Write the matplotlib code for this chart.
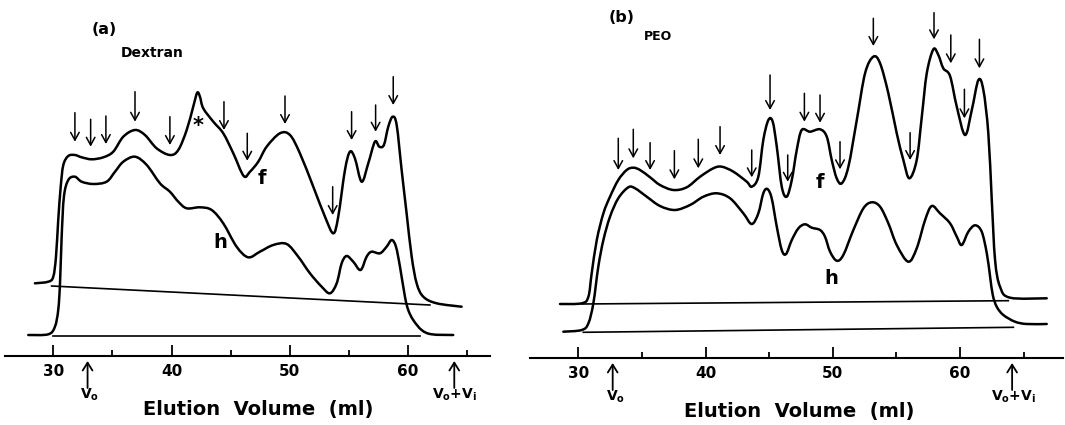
import numpy as np
import matplotlib
matplotlib.use("Agg")
import matplotlib.pyplot as plt
from matplotlib.path import Path
from matplotlib.patches import PathPatch

plt.rcParams["font.family"] = ["DejaVu Sans"]
plt.rcParams["mathtext.default"] = "regular"

# ---- (a) Dextran ----
dex_f_ml = [28.45, 29.58, 30.0, 30.23, 30.42, 30.63, 30.85, 31.27, 31.83, 32.40, 33.25, 34.23,
            35.07, 35.92, 36.91, 37.75, 38.74, 39.86, 40.57, 41.28, 41.83, 42.17, 42.40, 42.68,
            43.53, 44.37, 45.22, 46.1, 46.63, 47.33, 48.04, 49.16, 50.01, 50.85, 51.98, 52.97,
            53.67, 54.09, 54.66, 55.08, 55.5, 56.07, 56.63, 57.19, 57.56, 57.95, 58.32, 58.69,
            59.03, 59.45, 59.87, 60.3, 60.72, 61.28, 62.41, 64.52]
dex_f_abs = [7.27, 7.43, 7.93, 9.93, 13.6, 16.93, 19.1, 20.0, 20.1, 19.87, 19.67, 19.87,
             20.43, 21.93, 22.6, 22.1, 20.77, 20.1, 20.6, 22.6, 24.93, 26.33, 25.93, 24.77,
             23.43, 22.27, 20.27, 18.0, 18.43, 19.43, 20.93, 22.27, 22.1, 20.27, 16.93, 13.93,
             12.27, 13.93, 18.6, 20.43, 19.77, 17.43, 19.27, 21.43, 20.93, 21.1, 22.93, 23.93,
             23.1, 18.6, 14.27, 9.93, 7.27, 5.93, 5.27, 4.93]
dex_h_ml = [27.89, 29.58, 30.14, 30.42, 30.57, 30.71, 30.9, 31.27, 31.83, 32.4, 33.38, 34.51,
            35.22, 35.92, 36.91, 37.9, 39.02, 39.86, 40.57, 41.28, 42.4, 43.39, 44.37, 45.5,
            46.48, 47.47, 48.6, 49.73, 50.71, 51.7, 52.69, 53.39, 53.96, 54.38, 54.8, 55.36,
            55.98, 56.49, 56.91, 57.62, 58.18, 58.61, 58.97, 59.31, 59.73, 60.01, 60.43, 61.14,
            61.99, 63.81]
dex_h_abs = [2.1, 2.17, 2.93, 4.6, 7.27, 11.93, 15.93, 17.6, 17.93, 17.43, 17.2, 17.43,
             18.43, 19.43, 19.93, 19.1, 17.27, 16.43, 15.43, 14.77, 14.87, 14.6, 13.27, 10.93,
             9.87, 10.43, 11.1, 11.2, 9.93, 8.27, 6.93, 6.27, 7.27, 9.27, 10.0, 9.43,
             8.6, 9.93, 10.43, 10.27, 10.93, 11.6, 10.93, 8.93, 5.93, 4.6, 3.6, 2.6,
             2.17, 2.1]
dex_f_base_ml = [29.86, 61.84]
dex_f_base_abs = [7.0, 5.1]
dex_h_base_ml = [30.0, 60.99]
dex_h_base_abs = [2.05, 2.05]
dex_arrow_ml = [31.83, 33.16, 34.45, 36.91, 39.86, 44.43, 46.4, 49.59, 53.62, 55.22, 57.25, 58.74]
dex_arrow_top = [24.33, 23.67, 24.0, 26.43, 23.93, 25.43, 22.27, 26.0, 16.93, 24.43, 25.1, 27.93]
dex_arrow_tip = [21.43, 20.93, 21.2, 23.43, 21.1, 22.6, 19.53, 23.2, 14.1, 21.6, 22.43, 25.1]

# ---- (b) PEO ----
peo_f_ml = [28.56, 30.27, 30.79, 31.05, 31.45, 31.97, 32.49, 33.14, 33.8, 34.32, 34.85, 35.64,
            36.42, 37.47, 38.52, 39.57, 40.61, 41.27, 42.19, 43.24, 43.63, 44.15, 44.54, 44.94,
            45.28, 45.6, 45.99, 46.38, 46.78, 47.17, 47.56, 48.21, 49.0, 49.53, 49.92, 50.31,
            50.71, 51.23, 51.89, 52.54, 53.19, 53.72, 54.37, 55.03, 55.55, 56.02, 56.6, 57.0,
            57.39, 57.91, 58.3, 58.69, 59.22, 59.75, 60.4, 60.93, 61.45, 61.84, 62.23, 62.5,
            62.76, 63.15, 63.94, 66.82]
peo_f_abs = [5.4, 5.47, 6.13, 8.47, 11.8, 14.47, 16.13, 17.8, 18.8, 19.03, 18.8, 18.07,
             17.3, 16.8, 17.07, 18.13, 18.97, 19.13, 18.63, 17.63, 17.13, 18.13, 21.8, 23.8,
             23.63, 21.13, 17.13, 16.13, 17.8, 20.8, 22.8, 22.63, 22.87, 22.13, 19.8, 17.97,
             17.47, 19.13, 23.8, 28.47, 30.13, 29.47, 26.47, 22.47, 19.8, 17.97, 19.8, 24.13,
             28.47, 30.87, 30.3, 28.97, 28.2, 25.13, 22.3, 24.8, 27.8, 26.8, 22.47, 15.8,
             9.8, 7.13, 6.03, 5.97]
peo_h_ml = [28.82, 30.27, 30.79, 31.18, 31.57, 31.97, 32.49, 33.14, 33.93, 34.46, 35.38, 36.42,
            37.6, 38.78, 39.83, 40.88, 41.93, 42.97, 43.63, 44.15, 44.54, 44.86, 45.2, 45.6,
            45.99, 46.33, 46.78, 47.3, 47.82, 48.35, 49.0, 49.39, 49.79, 50.31, 50.83, 51.62,
            52.41, 53.07, 53.72, 54.37, 55.03, 55.94, 56.6, 57.26, 57.78, 58.43, 59.22, 59.75,
            60.14, 60.66, 61.19, 61.71, 62.11, 62.37, 62.58, 62.89, 63.41, 64.33, 65.25, 66.82]
peo_h_abs = [2.63, 2.8, 3.47, 5.47, 9.13, 11.8, 14.13, 15.97, 17.07, 16.97, 16.13, 15.2,
             14.8, 15.3, 16.13, 16.47, 15.97, 14.47, 13.4, 14.47, 16.47, 16.9, 15.97, 13.13,
             10.8, 10.4, 11.8, 12.97, 13.37, 13.03, 12.8, 12.13, 10.63, 9.73, 10.3, 12.8,
             14.97, 15.57, 15.13, 13.47, 11.3, 9.63, 10.97, 13.8, 15.2, 14.47, 13.47, 12.13,
             11.3, 12.63, 13.27, 12.63, 10.47, 8.13, 6.3, 5.13, 4.3, 3.63, 3.4, 3.4]
peo_f_base_ml = [30.27, 63.8]
peo_f_base_abs = [5.4, 5.73]
peo_h_base_ml = [30.39, 64.2]
peo_h_base_abs = [2.57, 3.07]
peo_arrow_ml = [33.14, 34.32, 35.64, 37.55, 39.43, 41.14, 43.63, 45.07, 46.46, 47.77, 49.0,
                50.57, 53.19, 56.08, 57.96, 59.28, 60.35, 61.53]
peo_arrow_top = [21.97, 22.87, 21.53, 20.73, 21.87, 23.13, 20.8, 28.3, 20.3, 26.47, 26.3,
                 21.63, 33.97, 22.53, 34.53, 32.3, 26.87, 31.87]
peo_arrow_tip = [18.8, 19.97, 18.8, 17.87, 18.97, 20.3, 18.07, 24.8, 17.63, 23.63, 23.53,
                 18.87, 31.2, 19.8, 31.87, 29.47, 23.97, 28.97]

major_ticks = [30, 40, 50, 60]
minor_ticks = [35, 45, 55, 65]
xlabel = "Elution  Volume  (ml)"


def smooth(ax, xs, ys, lw):
    # Catmull-Rom through the read points, drawn as a bezier path in data coords
    pts = np.column_stack([xs, ys])
    n = len(pts)
    verts = [pts[0]]
    codes = [Path.MOVETO]
    for i in range(n - 1):
        p0 = pts[max(i - 1, 0)]
        p1 = pts[i]
        p2 = pts[i + 1]
        p3 = pts[min(i + 2, n - 1)]
        verts += [p1 + (p2 - p0) / 6, p2 - (p3 - p1) / 6, p2]
        codes += [Path.CURVE4] * 3
    ax.add_patch(PathPatch(Path(verts, codes), fill=False, lw=lw, color="black",
                           capstyle="round", joinstyle="round"))


def panel(rect, xlim, ylim, f, h, fb, hb, arrows, vo, vovi, vo_lab, vovi_lab):
    ax = fig.add_axes(rect)
    ax.set_xlim(*xlim)
    ax.set_ylim(*ylim)
    for s in ["top", "left", "right"]:
        ax.spines[s].set_visible(False)
    ax.spines["bottom"].set_linewidth(1.5)
    ax.set_yticks([])
    ax.set_xticks(major_ticks)
    ax.set_xticks(minor_ticks, minor=True)
    ax.tick_params(axis="x", which="major", direction="in", length=8, width=1.3, pad=6,
                   labelsize=11)
    ax.tick_params(axis="x", which="minor", direction="in", length=4.5, width=1.3)
    for lab in ax.get_xticklabels():
        lab.set_fontweight("bold")

    smooth(ax, f[0], f[1], 1.8)
    smooth(ax, h[0], h[1], 1.8)
    ax.plot(fb[0], fb[1], color="black", lw=1.2)
    ax.plot(hb[0], hb[1], color="black", lw=1.2)

    for x, top, tip in zip(*arrows):
        ax.annotate("", xy=(x, tip), xytext=(x, top),
                    arrowprops=dict(arrowstyle="->,head_length=0.4,head_width=0.22",
                                    lw=1.1, color="black", shrinkA=0, shrinkB=0,
                                    mutation_scale=14))

    for x, lx, lab in [(vo, vo_lab, r"$V_o$"), (vovi, vovi_lab, r"$V_o$+$V_i$")]:
        ax.annotate("", xy=(x, -0.5), xytext=(x, -3.2), annotation_clip=False,
                    arrowprops=dict(arrowstyle="->,head_length=0.4,head_width=0.25",
                                    lw=1.3, color="black", shrinkA=0, shrinkB=0,
                                    mutation_scale=14))
        ax.text(lx, -3.85, lab, ha="center", va="center", fontsize=10, fontweight="bold",
                clip_on=False)
    return ax


fig = plt.figure(figsize=(10.65, 4.25), dpi=100)

ax1 = panel([5 / 1065, 69 / 425, 485 / 1065, 356 / 425], (25.92, 66.92), (0, 35.6),
            (dex_f_ml, dex_f_abs), (dex_h_ml, dex_h_abs),
            (dex_f_base_ml, dex_f_base_abs), (dex_h_base_ml, dex_h_base_abs),
            (dex_arrow_ml, dex_arrow_top, dex_arrow_tip), 32.9, 63.9, 33.1, 63.9)
ax1.text(34.29, 32.6, "(a)", ha="center", va="center", fontsize=11.5, fontweight="bold")
ax1.text(38.35, 30.3, "Dextran", ha="center", va="center", fontsize=10, fontweight="bold")
ax1.text(42.2, 23.0, "*", ha="center", va="center", fontsize=15, fontweight="bold")
ax1.text(47.6, 17.8, "f", ha="center", va="center", fontsize=14, fontweight="bold")
ax1.text(44.1, 11.3, "h", ha="center", va="center", fontsize=14, fontweight="bold")
ax1.text(47.3, -5.4, xlabel, ha="center", va="center", fontsize=14, fontweight="bold",
         clip_on=False)

ax2 = panel([530 / 1065, 67 / 425, 533 / 1065, 358 / 425], (26.2, 68.1), (0, 35.8),
            (peo_f_ml, peo_f_abs), (peo_h_ml, peo_h_abs),
            (peo_f_base_ml, peo_f_base_abs), (peo_h_base_ml, peo_h_base_abs),
            (peo_arrow_ml, peo_arrow_top, peo_arrow_tip), 32.7, 64.1, 32.96, 64.2)
ax2.text(33.39, 34.1, "(b)", ha="center", va="center", fontsize=11.5, fontweight="bold")
ax2.text(36.25, 32.1, "PEO", ha="center", va="center", fontsize=9, fontweight="bold")
ax2.text(49.0, 17.5, "f", ha="center", va="center", fontsize=14, fontweight="bold")
ax2.text(49.92, 8.0, "h", ha="center", va="center", fontsize=14, fontweight="bold")
ax2.text(47.35, -5.4, xlabel, ha="center", va="center", fontsize=14, fontweight="bold",
         clip_on=False)

fig.savefig("out.png", dpi=100)
